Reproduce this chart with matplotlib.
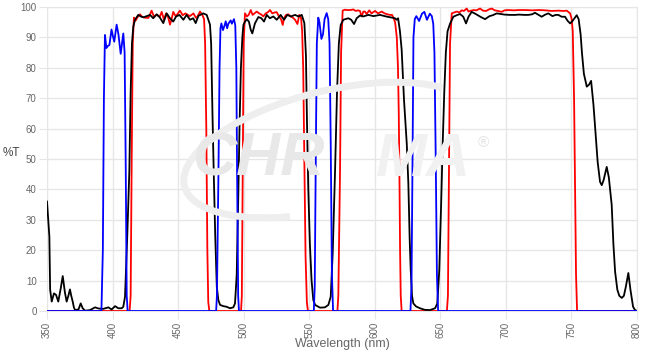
import matplotlib
matplotlib.use("Agg")
from matplotlib import pyplot as plt
from matplotlib.patches import Arc
from matplotlib.transforms import IdentityTransform

# wavelength (nm) / transmission (%)
blue_nm = [350, 391.5, 392.6, 393.4, 394.2, 395.3, 396.5, 397.6, 399.2, 400.2, 401.3, 403.1, 404.5, 406.2, 408.2, 409.2, 410, 410.8, 411.5,
           479, 479.6, 480.7, 481.6, 482.3, 483, 484.2, 485.5, 486.3, 487.4, 488.3, 490.1, 491, 492.6, 493.6, 494.4, 495, 495.8, 496.4,
           553.5, 554.2, 555, 555.8, 556.9, 557.8, 559.3, 560.5, 561.7, 563.3, 564.5, 565.5, 566.4, 567.3, 568.2,
           627.2, 628, 628.8, 629.5, 630.5, 631.7, 633.8, 636, 637.8, 639.8, 642, 643.5, 644.6, 645.5, 646.5, 647.4, 648.3, 800]
blue_T = [0, 0, 20, 70, 90.8, 86.5, 87.2, 87.5, 92.6, 90.5, 88.6, 94.2, 91, 84.6, 91.3, 85, 50, 5, 0,
          0, 5, 43, 80, 93, 94.6, 92.4, 94, 95.3, 93, 94.5, 95.6, 94.5, 96, 94, 80, 45, 5, 0,
          0, 8, 50, 88, 96.5, 95, 89.5, 91, 96, 98, 96, 88, 55, 12, 0,
          0, 8, 50, 90, 96, 97, 95.4, 97.8, 98.4, 95.8, 97.8, 97, 94.5, 85, 50, 12, 0, 0]

red_nm = [350, 413, 413.8, 414.6, 415.4, 416.3, 417.5, 419, 420.9, 422.5, 424.5, 427.3, 429.8, 431.5, 433.5, 436, 437.5, 439.2,
          440.8, 442.5, 443.8, 445, 446.3, 448.2, 451.4, 453.5, 455.6, 457.5, 459, 461.7, 463.5, 464.2, 466.7, 468.5, 469.8,
          470.6, 471.5, 472.3, 473, 473.8,
          498, 498.6, 499.3, 500, 501, 502.5, 503.8, 505.4, 506.8, 508.5, 510, 511.8, 513.5, 515, 516.8, 518.5, 520.1, 521.8,
          523.5, 525.2, 526.8, 528.5, 529.8, 530.8, 532.3, 534, 535.8, 537.5, 539.2, 541, 542.4, 543.8, 544.6, 545.4, 546.3,
          547.2, 548.2, 549,
          571.5, 572.2, 573.5, 574.3, 575.5, 577, 579, 581.5, 583.6, 585.5, 587.2, 588.7, 590, 591.3, 592.5, 593.8, 595.8,
          597.5, 600.2, 602.5, 605.3, 607.5, 609.5, 611.6, 613.2, 614.2, 615.5, 616.8, 617.7, 618.3, 618.8, 619.3, 619.8, 620.5,
          655, 655.8, 656.6, 657.4, 658.7, 660.5, 662.5, 664.5, 666.3, 668, 670.1, 671.5, 673.5, 675.5, 677.5, 680.3, 682.5,
          685, 687, 689.2, 691.5, 694, 696.8, 699, 702, 706, 710, 715, 720, 725, 730, 735, 740, 744, 746.4, 749, 750.2, 751,
          752, 752.8, 753.5, 754.3, 800]
red_T = [0, 0, 5, 50, 88, 96.5, 95.5, 96.6, 97.6, 96.8, 96.5, 96.4, 98.8, 96.9, 97.4, 96.8, 98.4, 95.8,
         97.9, 96.5, 94.2, 96, 98.4, 96.9, 98.8, 97.3, 97.9, 97.4, 97, 97.9, 96.5, 96.4, 98.5, 97.4, 96,
         88, 60, 20, 3, 0,
         0, 5, 46, 88, 97.9, 96.9, 97.4, 99, 97.4, 98, 98.5, 97.9, 97.5, 96.9, 97.9, 98.3, 99, 97.9,
         98.2, 98.3, 97, 96, 94.1, 96.3, 97.4, 97.6, 96.9, 96.5, 95.8, 94.4, 97.4, 96.3, 92, 80, 50,
         18, 3, 0,
         0, 5, 46, 85, 98.8, 99.1, 99, 99, 99.2, 98.7, 98.9, 98.7, 96.9, 98.5, 98.5, 97.7, 98.9,
         97.9, 98.7, 97.9, 98.5, 97.9, 97.6, 97.4, 97.4, 96.5, 95, 90, 80, 65, 45, 20, 5, 0,
         0, 5, 46, 88, 97.9, 98.2, 98.5, 98.2, 98.9, 98.7, 99.5, 98.5, 98.8, 99, 98.9, 99.5, 98.8,
         98.7, 99.2, 99.5, 98.9, 98.7, 98.4, 98.9, 99, 98.9, 99, 99, 98.9, 99, 98.9, 98.7, 98.8, 98.7, 98.8, 97.9, 96, 92,
         70, 40, 12, 0, 0]

black_nm = [350, 351.8, 352.4, 353.6, 354.5, 355.3, 356.9, 358.6, 360.5, 362, 363.7, 365, 366.3, 367.5, 368.5, 369.6, 370.5,
            371.4, 374, 375.7, 377.2, 379, 382.8, 386.6, 389.5, 392.9, 396.8, 399.3, 401.9, 404.4, 407, 408.2, 409.5, 411.2,
            412.8, 413.8, 414.8, 415.8, 417.1, 419.6, 421.5, 423.5, 426, 428.6, 431, 433.7, 436, 438.7, 441.3, 443.8, 446.3,
            448.5, 451, 454, 456.5, 459.1, 461.5, 463.4, 465.5, 469.2, 471.8, 474.3, 475.2, 476.2, 477.2, 478.3, 479.5, 480.7,
            482, 484.5, 486.9, 489.6, 492.1, 493.4, 494.7, 495.9, 496.9, 497.9, 499, 499.8, 500.8, 502.3, 504, 505.4, 506.6,
            508.6, 511.2, 513.5, 515.5, 517.6, 520, 522.6, 525.2, 528.2, 530.8, 533.3, 536, 539.2, 541.8, 544.3, 546.3, 547.5,
            548.3, 549.3, 550.5, 551.8, 553.1, 554.5, 558.2, 562, 564.6, 566.4, 567.9, 569.7, 571.2, 572.6, 574, 576, 579.8,
            582, 584.2, 586.2, 588.7, 591.3, 595.1, 599, 604, 608.5, 612.9, 615.4, 616.7, 617.8, 619.2, 620.5, 622.3, 624.4,
            625.6, 626.6, 627.4, 628.4, 629.4, 631.5, 634.5, 638, 642.1, 646, 647.7, 649.2, 650.6, 651.8, 653, 654.2, 655.5,
            657.4, 659.9, 662.5, 665, 667.5, 669.6, 671.5, 673.9, 677, 680.5, 684.1, 687.5, 690, 693, 696, 699, 703.1, 707,
            710, 714, 717.1, 720, 722.2, 724.5, 727.3, 730, 732.4, 735.5, 738, 740, 742.5, 745.1, 747, 749, 751, 754, 755.5,
            757, 758, 759.5, 761.7, 763.5, 765, 766.8, 768.5, 770, 771.8, 773.1, 774.5, 776.9, 778.5, 780.7, 782, 783.3, 785,
            786.5, 788.4, 790, 791.5, 793.4, 795, 797, 798.5, 800]
black_T = [36, 24.5, 7, 3.1, 4.5, 5.8, 5.3, 3.1, 7.5, 11.5, 6, 3.1, 5, 7.1, 5, 3.1, 1.2,
           0.3, 0.5, 2.5, 0.9, 0.1, 0.3, 1.2, 0.8, 0.7, 1.2, 0.5, 1.6, 0.9, 0.9, 1.4, 4.7, 24.5,
           46, 72, 88, 93.5, 95.8, 97.4, 96.9, 96.6, 97, 97.4, 96.3, 97.6, 96.6, 94.7, 97.9, 96.3, 95.2,
           96.9, 97.4, 95.8, 97.4, 95.8, 96.3, 94.7, 97.1, 97.9, 97.4, 94.2, 88, 65, 45, 25, 8, 3.6,
           2, 1.6, 1.4, 0.9, 1.2, 2.5, 12, 38, 62, 80, 90, 94.1, 95, 96, 95.2, 92.5, 91.3,
           94.6, 96.7, 96.3, 95.2, 97.4, 96.3, 96.9, 95.8, 97.4, 95.8, 97.4, 96.9, 97.4, 96.9, 97.4, 94.7, 84,
           62, 40, 22, 10, 3.6, 2, 1.1, 1.2, 2, 4.7, 19, 46, 72, 88, 94.1, 95.8, 96.3,
           95.8, 94.4, 96.3, 97.2, 96.9, 97.4, 97, 97.4, 96.9, 96.5, 96.3, 95.8, 96.3, 92, 86, 69.4, 55,
           42, 24, 13.5, 5, 2.5, 1.5, 0.9, 0.4, 0.3, 0.9, 2.5, 13.5, 35, 55, 72, 85, 92,
           94.5, 96.8, 97.3, 97.7, 96.8, 94.6, 96.8, 98.4, 97.7, 96.8, 96, 97, 97.3, 97.9, 97.7, 97.5, 97.4, 97.4,
           97.5, 97.4, 97.4, 97.6, 98.1, 97.5, 96.8, 97.5, 97.9, 97, 97.4, 97.4, 96.8, 96.8, 95.5, 94.6, 95.5, 97.3, 96,
           91, 85, 78, 73.8, 74.5, 75.7, 67.8, 58, 49, 42.5, 41.4, 43, 47.4, 44, 34.9, 22, 12.9, 7,
           5, 4.3, 5, 8, 12.5, 7, 1.4, 0.3, 0]

x_ticks = list(range(350, 801, 50))
y_ticks = list(range(0, 101, 10))

grid_c = "#e6e6e6"
label_c = "#666666"
plt.rcParams["font.family"] = ["Liberation Sans", "DejaVu Sans"]

fig = plt.figure(figsize=(6.52, 3.54), dpi=100)
ax = fig.add_axes([47 / 652, 43 / 354, 590 / 652, 304 / 354])

# faint CHROMA watermark behind the curves
swoosh = Arc((330, 354 - 150), 300, 118, angle=14, theta1=15, theta2=225,
             edgecolor="#eeeeee", lw=5, transform=IdentityTransform(), zorder=0.5)
fig.add_artist(swoosh)
fig.text(258 / 652, 1 - 160 / 354, "CHR", fontsize=44, fontweight="bold", style="italic",
         color="#e8e8e8", ha="center", va="center", zorder=0.6)
fig.text(423 / 652, 1 - 160 / 354, "MA", fontsize=44, fontweight="bold", style="italic",
         color="#f1f1f1", ha="center", va="center", zorder=0.6)
fig.text(483 / 652, 1 - 143 / 354, "®", fontsize=11, color="#e3e3e3", ha="center", va="center")

ax.patch.set_alpha(0)
ax.plot(red_nm, red_T, color="#ff0000", lw=1.3, zorder=3)
ax.plot(black_nm, black_T, color="#000000", lw=1.3, zorder=4)
ax.plot(blue_nm, blue_T, color="#0000ff", lw=1.3, zorder=5)

ax.set_xlim(350, 800)
ax.set_ylim(0, 100)
ax.set_xticks(x_ticks)
ax.set_yticks(y_ticks)
ax.grid(True, color=grid_c, lw=1)
ax.set_axisbelow(True)
for s in ax.spines.values():
    s.set_color(grid_c)
ax.tick_params(length=6, color=grid_c, labelcolor=label_c, labelsize=7, pad=1.5)
ax.tick_params(axis="x", labelrotation=90)

ax.set_xlabel("Wavelength (nm)", fontsize=9, color=label_c)
ax.xaxis.set_label_coords(0.5, -0.088)
fig.text(11 / 652, 1 - 153 / 354, "%T", fontsize=8.5, color="#444444", ha="center", va="center")

plt.savefig("out.png", dpi=100)
